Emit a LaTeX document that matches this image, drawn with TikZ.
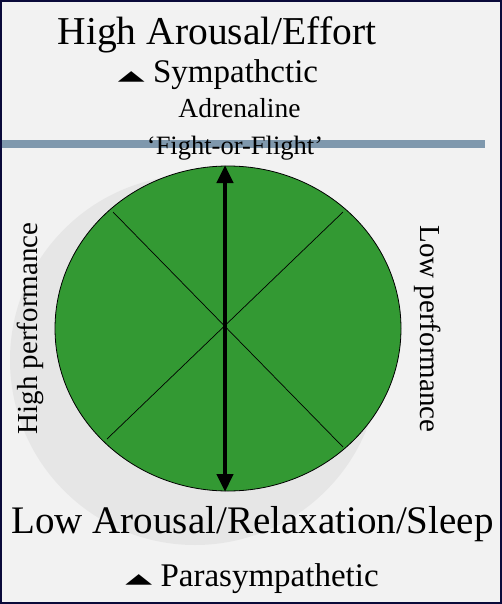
\documentclass[tikz,border=0pt]{standalone}
\usepackage{fontspec}
\setmainfont{Liberation Serif}
\newfontfamily\symfont{DejaVu Sans}
\usetikzlibrary{arrows.meta,shapes.geometric}
\definecolor{bgcol}{HTML}{F2F2F2}
\definecolor{shadowcol}{HTML}{E6E6E6}
\definecolor{greencol}{HTML}{339933}
\definecolor{bandcol}{HTML}{7F98AD}
\definecolor{framecol}{HTML}{0A0A3A}
\newcommand{\uptri}{{\symfont\raisebox{0.09em}{\scalebox{1.06}[0.42]{▲}}}}
\tikzset{
  lbl/.style={inner sep=0pt, anchor=base, text=black},
  big/.style={lbl, font=\fontsize{39.5}{44}\selectfont},
  mid/.style={lbl, font=\fontsize{33}{38}\selectfont},
  small/.style={lbl, font=\fontsize{27.5}{32}\selectfont},
  side/.style={lbl, font=\fontsize{29}{34}\selectfont},
  diag/.style={draw=black, line width=0.7pt},
  bigarrow/.style={line width=4.5pt, {Triangle[width=16pt,length=18pt]}-{Triangle[width=16pt,length=18pt]}}
}
\begin{document}
\begin{tikzpicture}[x=1pt, y=-1pt]
  \useasboundingbox (0,0) rectangle (502,604);
  % background
  \fill[bgcol] (0,0) rectangle (502,604);
  % band
  \fill[bandcol] (0,140) rectangle (485,148);
  % shadow
  \fill[shadowcol] (195,360) circle[radius=185];
  % green disc
  \node[ellipse, draw=black, line width=0.8pt, fill=greencol, minimum width=346pt, minimum height=325pt, inner sep=0pt] (disc) at (228,328.5) {};
  % diagonals
  \coordinate (ul) at (113,212);
  \coordinate (lr) at (343,447);
  \coordinate (ll) at (107,439);
  \coordinate (ur) at (343,212);
  \draw[diag] (ul) -- (lr);
  \draw[diag] (ll) -- (ur);
  % vertical arrow
  \coordinate (atop) at (225,165);
  \coordinate (abot) at (225,492);
  \draw[bigarrow] (atop) -- (abot);
  % texts
  \node[big] (high) at (217,45) {High Arousal/Effort};
  \node[mid] (symp) at (218,83) {\uptri\ Sympathctic};
  \node[small] (adr) at (239.5,118) {Adrenaline};
  \node[lbl, font=\fontsize{26.5}{30}\selectfont] (fof) at (235,154) {‘Fight-or-Flight’};
  \node[big, font=\fontsize{39}{44}\selectfont] (low) at (252.5,533) {Low Arousal/Relaxation/Sleep};
  \node[mid] (para) at (252,586) {\uptri\ Parasympathetic};
  \node[side, rotate=90] (hp) at (37,328.5) {High performance};
  \node[side, rotate=-90] (lp) at (420,329) {Low performance};
  % frame
  \draw[framecol, line width=2pt] (1,1) rectangle (501,603);
\end{tikzpicture}
\end{document}
